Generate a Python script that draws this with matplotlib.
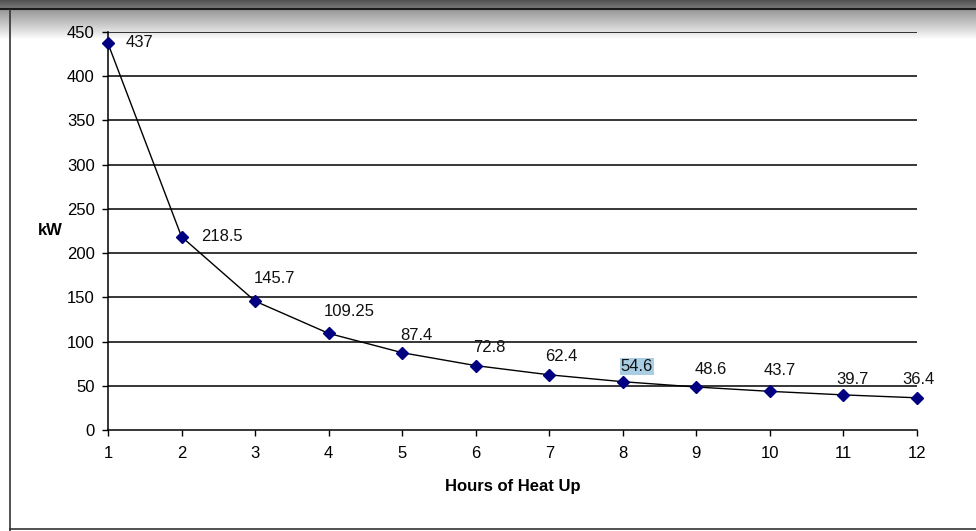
import numpy as np
import matplotlib
matplotlib.use("Agg")
import matplotlib.pyplot as plt
from matplotlib.lines import Line2D

plt.rcParams['font.family'] = ['Liberation Sans', 'DejaVu Sans']

hours = [1, 2, 3, 4, 5, 6, 7, 8, 9, 10, 11, 12]
kw = [437, 218.5, 145.7, 109.25, 87.4, 72.8, 62.4, 54.6, 48.6, 43.7, 39.7, 36.4]
labels = ["437", "218.5", "145.7", "109.25", "87.4", "72.8", "62.4", "54.6", "48.6", "43.7", "39.7", "36.4"]
yticks = [0, 50, 100, 150, 200, 250, 300, 350, 400, 450]

# label offsets in pixels (dx, dy)
offsets = [(32, 1), (40, 0), (19, 23), (21, 22), (14, 17), (14, 18), (12, 18),
           (14, 15), (14, 18), (10, 21), (9, 15), (1, 18)]

W, H = 976, 531
fig = plt.figure(figsize=(W / 100, H / 100), dpi=100)
fig.patch.set_facecolor('white')

# top gray gradient band (screenshot frame)
gax = fig.add_axes([0, 1 - 40 / H, 1, 40 / H])
t = np.linspace(0, 1, 31)
grad = np.concatenate([np.linspace(0.32, 0.48, 9), 0.6 + 0.4 * t ** 1.1])
gax.imshow(grad[:, None], cmap='gray', vmin=0, vmax=1, aspect='auto', extent=[0, 1, 0, 1],
           interpolation='bilinear')
gax.axis('off')
fig.add_artist(Line2D([0, 1], [1 - 8.5 / H, 1 - 8.5 / H], transform=fig.transFigure, color='#1a1a1a', lw=1.5))
fig.add_artist(Line2D([10 / W, 10 / W], [0, 1 - 10 / H], transform=fig.transFigure, color='#333333', lw=1.2))
fig.add_artist(Line2D([10 / W, 1], [2 / H, 2 / H], transform=fig.transFigure, color='#333333', lw=1.2))

ax = fig.add_axes([108 / W, 1 - 430 / H, (917 - 108) / W, (430 - 32) / H])
ax.set_facecolor('none')
ax.set_xlim(1, 12)
ax.set_ylim(0, 450)
ax.set_yticks(yticks)
ax.set_xticks(hours)
for y in yticks[1:]:
    ax.axhline(y, color='black', lw=1.1, zorder=1)
ax.plot(hours, kw, color='black', lw=1.0, zorder=3, clip_on=False)
ax.plot(hours, kw, linestyle='none', marker='D', markersize=6.5, color='#000080',
        markeredgecolor='#000080', zorder=4, clip_on=False)

for x, y, lab, (dx, dy) in zip(hours, kw, labels, offsets):
    bbox = None
    if lab == "54.6":
        bbox = dict(boxstyle='square,pad=0.05', facecolor='#a9cde2', edgecolor='none')
    ax.annotate(lab, (x, y), xytext=(dx, dy), textcoords='offset pixels',
                ha='center', va='center', fontsize=12, color='#111111', bbox=bbox, zorder=5)

for s in ['top', 'right']:
    ax.spines[s].set_visible(False)
ax.spines['left'].set_linewidth(1.1)
ax.spines['bottom'].set_linewidth(1.1)
ax.tick_params(axis='both', direction='out', length=4.5, width=1.0, labelsize=12, colors='black')
ax.tick_params(axis='x', pad=7)
ax.tick_params(axis='y', pad=5)

ax.set_xlabel("Hours of Heat Up", fontsize=12, fontweight='bold', labelpad=13)
fig.text(50 / W, 1 - 230 / H, "kW", fontsize=12, fontweight='bold', ha='center', va='center')

fig.savefig("out.png", dpi=100)
